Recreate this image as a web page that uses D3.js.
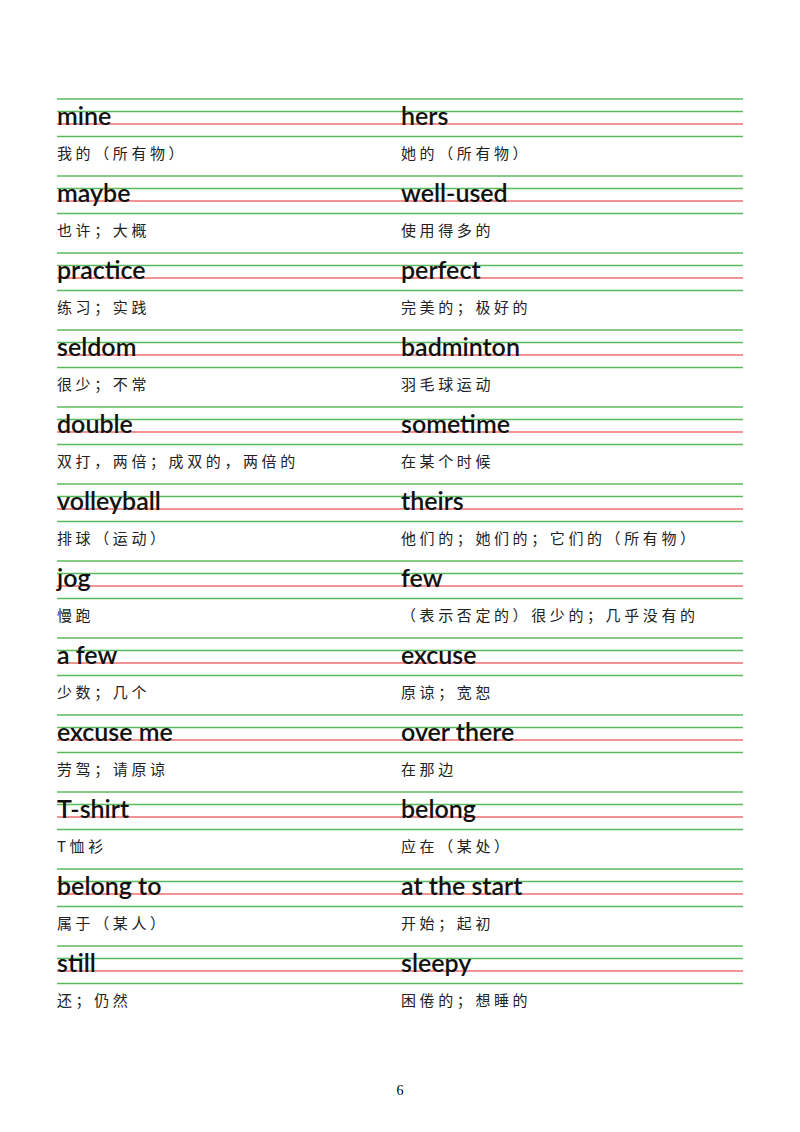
<!DOCTYPE html><html><head><meta charset="utf-8"><script src="https://cdn.jsdelivr.net/npm/d3@7"></script>
<style>body{margin:0;background:#fff}</style></head><body><script>
const leftWords=["mine","maybe","practice","seldom","double","volleyball","jog","a few","excuse me","T-shirt","belong to","still"];
const leftMeanings=["我的（所有物）","也许；大概","练习；实践","很少；不常","双打，两倍；成双的，两倍的","排球（运动）","慢跑","少数；几个","劳驾；请原谅","T恤衫","属于（某人）","还；仍然"];
const rightWords=["hers","well-used","perfect","badminton","sometime","theirs","few","excuse","over there","belong","at the start","sleepy"];
const rightMeanings=["她的（所有物）","使用得多的","完美的；极好的","羽毛球运动","在某个时候","他们的；她们的；它们的（所有物）","（表示否定的）很少的；几乎没有的","原谅；宽恕","在那边","应在（某处）","开始；起初","困倦的；想睡的"];
const pageNumber="6";
const W=800,H=1132;
const svg=d3.select("body").append("svg").attr("width",W).attr("height",H);
const y=d3.scaleLinear().domain([0,1]).range([99,176]);
const sub=d3.scaleLinear().domain([0,3]).range([0,37.5]);
const idx=d3.range(leftWords.length);
const g=svg.selectAll("g.row").data(idx).join("g").attr("transform",i=>`translate(0,${y(i)})`);
[0,1,2,3].forEach(k=>{
  g.append("line").attr("x1",57).attr("x2",743).attr("y1",sub(k)).attr("y2",sub(k))
   .attr("stroke",k===2?"#ee6e6e":"#5cb85c").attr("stroke-width",1.3);
});
const cols=[{x:57,w:leftWords,m:leftMeanings},{x:401,w:rightWords,m:rightMeanings}];
cols.forEach(c=>{
  g.append("text").attr("x",c.x).attr("y",sub(2)+0.5).text(i=>c.w[i])
   .attr("font-family","Lato, 'Open Sans', sans-serif").attr("font-weight","600").attr("font-size",25).attr("fill","#111");
  g.append("text").attr("x",c.x).attr("y",sub(3)+22).text(i=>c.m[i])
   .attr("font-family","'Noto Sans CJK SC', sans-serif").attr("font-size",15).attr("letter-spacing",3.6).attr("fill","#222");
});
svg.append("text").attr("x",400).attr("y",1095).attr("text-anchor","middle").text(pageNumber)
 .attr("font-family","'Liberation Serif', serif").attr("font-size",14);
</script></body></html>
